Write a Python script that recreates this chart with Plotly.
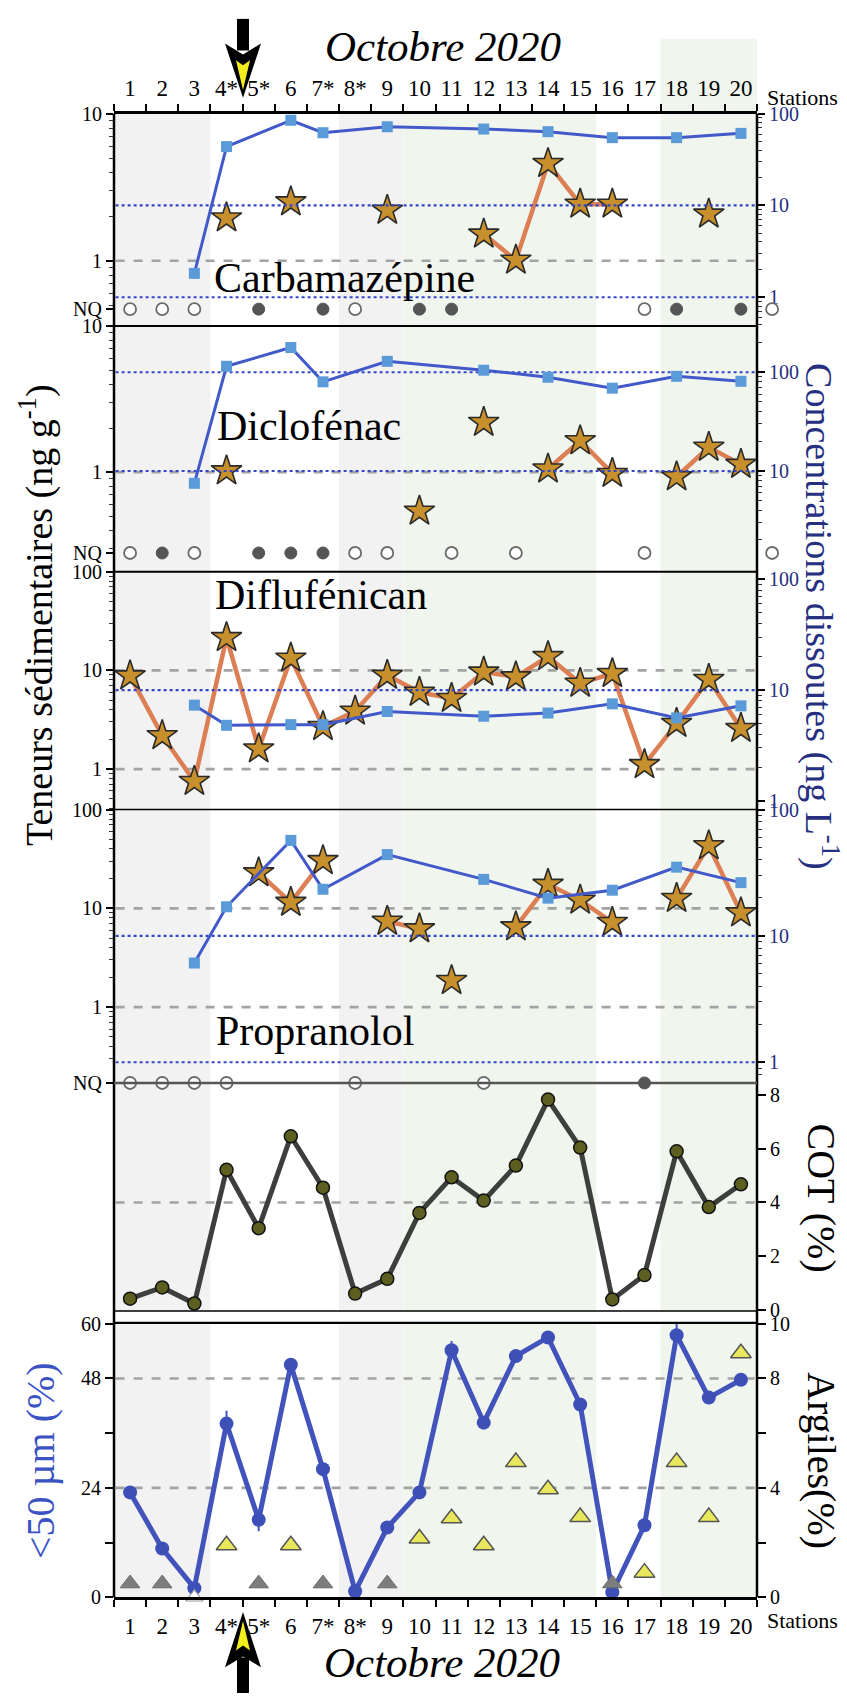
import plotly.graph_objects as go

W, H = 847, 1704
def px(x): return x / W
def py(y): return 1 - y / H

FONT = "Liberation Serif, Times New Roman, DejaVu Serif, serif"
NAVY = "#262f80"

# ---------------- data ----------------
stations = list(range(1, 21))
station_labels = ["1", "2", "3", "4*", "5*", "6", "7*", "8*", "9", "10",
                  "11", "12", "13", "14", "15", "16", "17", "18", "19", "20"]
diss_stations = [3, 4, 6, 7, 9, 12, 14, 16, 18, 20]

# Carbamazepine
carba_sed = [None, None, None, 1.96, None, 2.52, None, None, 2.21, None,
             None, 1.52, 1.01, 4.6, 2.43, 2.43, None, None, 2.08, None]
carba_diss = [1.82, 43.8, 84.7, 62, 72, 68, 63.6, 54.8, 54.8, 61]
carba_nq_open = [1, 2, 3, 8, 17]
carba_nq_filled = [5, 7, 10, 11, 18, 20]

# Diclofenac
diclo_sed = [None, None, None, 1.02, None, None, None, None, None, 0.54,
             None, 2.19, None, 1.05, 1.64, 0.98, None, 0.93, 1.48, 1.13]
diclo_diss = [7.5, 115, 178, 80, 129, 105, 89, 69, 91, 81]
diclo_nq_open = [1, 3, 8, 9, 11, 13, 17]
diclo_nq_filled = [2, 5, 6, 7]

# stray open NQ symbols drawn just right of the frame
edge_nq_x = [20.97]

# Diflufenican
diflu_sed = [8.8, 2.18, 0.75, 21.5, 1.6, 13.3, 2.7, 3.86, 8.9, 6.0,
             5.2, 9.6, 8.6, 13.8, 7.4, 9.3, 1.11, 2.9, 8.1, 2.58]
diflu_diss = [7.3, 4.8, 4.87, 4.87, 6.4, 5.8, 6.2, 7.5, 5.6, 7.2]

# Propranolol
propra_sed = [None, None, None, None, 22.9, 11.5, 30.4, None, 7.4, 6.2,
              1.86, None, 6.5, 17.5, 12.1, 7.2, None, 12.6, 43, 9.0]
propra_unlinked = [11]
propra_diss = [6.1, 17, 57, 23.4, 44, 28, 19.9, 23, 35, 26.4]
propra_nq_open = [1, 2, 3, 4, 8, 12]
propra_nq_filled = [17]

# COT (%)
cot = [0.41, 0.83, 0.23, 5.22, 3.04, 6.47, 4.55, 0.6, 1.15, 3.61,
       4.94, 4.07, 5.38, 7.84, 6.05, 0.38, 1.29, 5.91, 3.83, 4.68]

# <50 um (%)
fines = [23.0, 10.7, 2.0, 38.1, 17.0, 51.0, 28.1, 1.3, 15.3, 23.0,
         54.2, 38.3, 52.9, 57.0, 42.3, 1.1, 15.8, 57.5, 43.8, 47.7]
fines_err_plus = [0, 0, 0, 2.8, 0, 0, 0, 0, 0, 0, 2.0, 0, 0, 0, 0, 0, 0, 2.5, 0, 0]
fines_err_minus = [0, 0, 0, 0, 2.5, 0, 0, 0, 0, 0, 0, 0, 0, 0, 0, 0, 0, 0, 0, 0]

# Argiles (%)
argile_stations = [4, 6, 10, 11, 12, 13, 14, 15, 17, 18, 19, 20]
argile_values = [1.9, 1.9, 2.15, 2.89, 1.9, 4.94, 3.95, 2.93, 0.9, 4.94, 2.93, 8.92]
argile_low_stations = [1, 2, 5, 7, 9, 16]
argile_low_values = [0.5, 0.5, 0.5, 0.5, 0.5, 0.5]
argile_nd_stations = [3]
argile_nd_values = [0.0]

# ---------------- layout geometry ----------------
XL, XR = 114, 757
XR_EXT = 790
panels = {  # (top px, bottom px)
    1: (104, 319), 2: (319, 568), 3: (568, 809), 4: (809, 1086),
    5: (1086, 1317), 6: (1329, 1607)}
def dom(p):
    t, b = panels[p]
    return [py(b), py(t)]

NQ1 = 10 ** -0.329
NQ2 = 10 ** -0.554
NQ4 = 10 ** -0.768

fig = go.Figure()

def hline(val, axis, color, dash, width=2.2):
    fig.add_trace(go.Scatter(x=[0.55, 20.45], y=[val, val], yaxis=axis, mode="lines",
                             line=dict(color=color, dash=dash, width=width),
                             hoverinfo="skip", showlegend=False))

GRAY_DASH = "#a3a3a3"
BLUE_DOT = "#3347c8"
STAR_FILL = "#c8902c"
ORANGE = "#dd7f55"
SQ_COLOR = "#5b9ad8"
BLUE_LINE = "#4259c9"

def diss_trace(vals, axis):
    fig.add_trace(go.Scatter(x=diss_stations, y=vals, yaxis=axis, mode="lines+markers",
                             line=dict(color=BLUE_LINE, width=3),
                             marker=dict(symbol="square", size=11, color=SQ_COLOR),
                             showlegend=False, cliponaxis=False))

def sed_traces(vals, axis, unlinked=()):
    linevals = [None if s in unlinked else v for s, v in zip(stations, vals)]
    fig.add_trace(go.Scatter(x=stations, y=linevals, yaxis=axis, mode="lines",
                             connectgaps=False, line=dict(color=ORANGE, width=4.5),
                             showlegend=False, hoverinfo="skip"))
    fig.add_trace(go.Scatter(x=stations, y=vals, yaxis=axis, mode="markers",
                             marker=dict(symbol="star", size=23, color=STAR_FILL,
                                         line=dict(color="#2b2b2b", width=1.6)),
                             showlegend=False, cliponaxis=False))

OPEN_NQ = dict(symbol="circle", size=12, color="white", line=dict(color="#6a6a6a", width=1.8))

def nq_traces(open_st, filled_st, val, axis):
    fig.add_trace(go.Scatter(x=open_st, y=[val] * len(open_st), yaxis=axis, mode="markers",
                             marker=OPEN_NQ, showlegend=False, cliponaxis=False))
    fig.add_trace(go.Scatter(x=filled_st, y=[val] * len(filled_st), yaxis=axis, mode="markers",
                             marker=dict(symbol="circle", size=12, color="#555555",
                                         line=dict(color="#555555", width=1)),
                             showlegend=False, cliponaxis=False))

def edge_nq(val, axis):
    fig.add_trace(go.Scatter(x=edge_nq_x, y=[val] * len(edge_nq_x), xaxis="x3", yaxis=axis,
                             mode="markers", marker=OPEN_NQ, showlegend=False,
                             cliponaxis=False))

# Panel 1
hline(1, "y", GRAY_DASH, "dash", 2.6)
hline(10, "y2", BLUE_DOT, "dot")
hline(1, "y2", BLUE_DOT, "dot")
diss_trace(carba_diss, "y2")
sed_traces(carba_sed, "y")
nq_traces(carba_nq_open, carba_nq_filled, NQ1, "y")
edge_nq(NQ1, "y")

# Panel 2
hline(1, "y3", GRAY_DASH, "dash", 2.6)
hline(100, "y4", BLUE_DOT, "dot")
hline(10, "y4", BLUE_DOT, "dot")
diss_trace(diclo_diss, "y4")
sed_traces(diclo_sed, "y3")
nq_traces(diclo_nq_open, diclo_nq_filled, NQ2, "y3")
edge_nq(NQ2, "y3")

# Panel 3
hline(10, "y5", GRAY_DASH, "dash", 2.6)
hline(1, "y5", GRAY_DASH, "dash", 2.6)
hline(10, "y6", BLUE_DOT, "dot")
diss_trace(diflu_diss, "y6")
sed_traces(diflu_sed, "y5")

# Panel 4
hline(10, "y7", GRAY_DASH, "dash", 2.6)
hline(1, "y7", GRAY_DASH, "dash", 2.6)
hline(10, "y8", BLUE_DOT, "dot")
hline(1, "y8", BLUE_DOT, "dot")
diss_trace(propra_diss, "y8")
sed_traces(propra_sed, "y7", propra_unlinked)
nq_traces(propra_nq_open, propra_nq_filled, NQ4, "y7")

# Panel 5 COT
hline(4, "y9", GRAY_DASH, "dash", 2.6)
fig.add_trace(go.Scatter(x=stations, y=cot, yaxis="y9", mode="lines+markers",
                         line=dict(color="#3c3f3c", width=5),
                         marker=dict(symbol="circle", size=13, color="#5c5f1f",
                                     line=dict(color="#111111", width=1.5)),
                         showlegend=False, cliponaxis=False))

# Panel 6 grain size / clay
hline(24, "y10", GRAY_DASH, "dash", 2.6)
hline(48, "y10", GRAY_DASH, "dash", 2.6)
fig.add_trace(go.Scatter(x=argile_low_stations, y=argile_low_values, yaxis="y11", mode="markers",
                         marker=dict(symbol="triangle-up", size=17, color="#7d7d7d",
                                     line=dict(color="#6a6a6a", width=1)),
                         showlegend=False, cliponaxis=False))
fig.add_trace(go.Scatter(x=argile_nd_stations, y=argile_nd_values, yaxis="y11", mode="markers",
                         marker=dict(symbol="triangle-up", size=15, color="white",
                                     line=dict(color="#9a9a9a", width=1.2)),
                         showlegend=False, cliponaxis=False))
fig.add_trace(go.Scatter(x=stations, y=fines, yaxis="y10", mode="lines+markers",
                         line=dict(color="#4254bb", width=5),
                         marker=dict(symbol="circle", size=14, color="#3d50b8"),
                         error_y=dict(type="data", symmetric=False, array=fines_err_plus,
                                      arrayminus=fines_err_minus, width=0, thickness=2,
                                      color="#4254bb"),
                         showlegend=False, cliponaxis=False))
fig.add_trace(go.Scatter(x=argile_stations, y=argile_values, yaxis="y11", mode="markers",
                         marker=dict(symbol="triangle-up", size=18, color="#e9e85c",
                                     line=dict(color="#555555", width=1.5)),
                         showlegend=False, cliponaxis=False))

# dummy trace for top axis
fig.add_trace(go.Scatter(x=[1], y=[1], xaxis="x2", yaxis="y", mode="markers",
                         marker=dict(opacity=0), hoverinfo="skip", showlegend=False))

# ---------------- axes ----------------
tickfont = dict(family=FONT, size=20, color="black")
navyfont = dict(family=FONT, size=20, color=NAVY)
bounds = [s + 0.5 for s in range(0, 21)]

xcommon = dict(range=[0.5, 20.5], domain=[px(XL), px(XR)], showgrid=False, zeroline=False,
               tickmode="array", tickvals=stations, ticktext=station_labels,
               tickfont=dict(family=FONT, size=23, color="black"),
               ticks="outside", ticklen=6, tickcolor="rgba(0,0,0,0)",
               showline=True, linecolor="black", linewidth=2.5,
               minor=dict(tickmode="array", tickvals=bounds, ticks="outside",
                          ticklen=7, tickwidth=1.8, tickcolor="black"))
step = (XR - XL) / 20.0
fig.update_layout(xaxis=dict(anchor="y10", side="bottom", **xcommon),
                  xaxis2=dict(anchor="y", side="top", overlaying="x", **xcommon),
                  xaxis3=dict(anchor="y", domain=[px(XL), px(XR_EXT)],
                              range=[0.5, 0.5 + (XR_EXT - XL) / step], visible=False))

def minor_log(lo):
    return [m * 10 ** e for e in range(-2, 3) for m in range(2, 10) if m * 10 ** e >= lo]

def logaxis(p, rng, tickvals, ticktext, font, side="left", overlay=None, minlo=0.0):
    d = dict(type="log", range=rng, showgrid=False, zeroline=False, showline=False,
             tickmode="array", tickvals=tickvals, ticktext=ticktext, tickfont=font,
             ticks="outside", ticklen=7, tickwidth=1.8, tickcolor="black",
             anchor="x", side=side,
             minor=dict(tickmode="array", tickvals=minor_log(minlo), ticks="outside",
                        ticklen=4, tickwidth=1, tickcolor="#333333"))
    if overlay:
        d["overlaying"] = overlay
    else:
        d["domain"] = dom(p)
    return d

fig.update_layout(
    yaxis=logaxis(1, [-0.443, 1.002], [10, 1, NQ1], ["10", "1", "NQ"], tickfont, minlo=0.5),
    yaxis2=logaxis(1, [-0.312, 2.0], [100, 10, 1], ["100", "10", "1"], navyfont, "right", "y", minlo=0.5),
    yaxis3=logaxis(2, [-0.682, 1.002], [10, 1, NQ2], ["10", "1", "NQ"], tickfont, minlo=0.3),
    yaxis4=logaxis(2, [-0.02, 2.47], [100, 10], ["100", "10"], navyfont, "right", "y3", minlo=1),
    yaxis5=logaxis(3, [-0.41, 2.0], [100, 10, 1], ["100", "10", "1"], tickfont, minlo=0.4),
    yaxis6=logaxis(3, [-0.08, 2.07], [100, 10, 1], ["100", "10", "1"], navyfont, "right", "y5", minlo=1),
    yaxis7=logaxis(4, [-0.768, 2.0], [100, 10, 1, NQ4], ["100", "10", "1", "NQ"], tickfont, minlo=0.3),
    yaxis8=logaxis(4, [-0.164, 2.0], [100, 10, 1], ["100", "10", "1"], navyfont, "right", "y7", minlo=0.8),
    yaxis9=dict(domain=dom(5), range=[-0.05, 8.46], side="right", anchor="x",
                showgrid=False, zeroline=False, showline=False,
                tickmode="array", tickvals=[0, 2, 4, 6, 8], tickfont=tickfont,
                ticks="outside", ticklen=8, tickwidth=1.8, tickcolor="black"),
    yaxis10=dict(domain=dom(6), range=[0, 60.2], side="left", anchor="x",
                 showgrid=False, zeroline=False, showline=False,
                 tickmode="array", tickvals=[0, 12, 24, 36, 48, 60],
                 ticktext=["0", " ", "24", " ", "48", "60"], tickfont=tickfont,
                 ticks="outside", ticklen=8, tickwidth=1.8, tickcolor="black"),
    yaxis11=dict(overlaying="y10", range=[0, 10.03], side="right", anchor="x",
                 showgrid=False, zeroline=False, showline=False,
                 tickmode="array", tickvals=[0, 2, 4, 6, 8, 10],
                 ticktext=["0", " ", "4", " ", "8", "10"], tickfont=tickfont,
                 ticks="outside", ticklen=8, tickwidth=1.8, tickcolor="black"),
)

# ---------------- shapes ----------------
shapes = []
GRAY_BAND = "#f2f2f2"
GREEN_BAND = "#f0f6ed"
bands = [(0.5, 3.5, GRAY_BAND, 104), (7.5, 9.5, GRAY_BAND, 104),
         (9.5, 15.5, GREEN_BAND, 104), (17.5, 20.5, GREEN_BAND, 28)]
for x0, x1, c, top in bands:
    shapes.append(dict(type="rect", xref="x", yref="paper", x0=x0, x1=x1,
                       y0=py(1317), y1=py(top), fillcolor=c, line=dict(width=0), layer="below"))
    shapes.append(dict(type="rect", xref="x", yref="paper", x0=x0, x1=x1,
                       y0=py(1607), y1=py(1329), fillcolor=c, line=dict(width=0), layer="below"))

for xx in (XL, XR):
    shapes.append(dict(type="line", xref="paper", yref="paper", x0=px(xx), x1=px(xx),
                       y0=py(104), y1=py(1607), line=dict(color="black", width=2.5)))
for yy, col, wd in [(319, "black", 2), (568, "black", 2), (809, "black", 1.6),
                    (1086, "#555555", 2.5), (1317, "black", 1.6), (1329, "black", 2.2)]:
    shapes.append(dict(type="line", xref="paper", yref="paper", x0=px(XL), x1=px(XR),
                       y0=py(yy), y1=py(yy), line=dict(color=col, width=wd)))

def poly(points):
    return "M " + " L ".join(f"{px(a):.5f},{py(b):.5f}" for a, b in points) + " Z"

# top arrow
shapes.append(dict(type="path", xref="paper", yref="paper",
                   path=poly([(237, 8), (249, 8), (249, 40), (237, 40)]),
                   fillcolor="black", line=dict(width=0)))
shapes.append(dict(type="path", xref="paper", yref="paper",
                   path=poly([(225, 33), (243, 44), (261, 33), (243, 88)]),
                   fillcolor="black", line=dict(width=0)))
shapes.append(dict(type="path", xref="paper", yref="paper",
                   path=poly([(236, 50), (243, 55), (250, 50), (243, 80)]),
                   fillcolor="#f2ee1c", line=dict(width=0)))
# bottom arrow
shapes.append(dict(type="path", xref="paper", yref="paper",
                   path=poly([(237, 1668), (249, 1668), (249, 1704), (237, 1704)]),
                   fillcolor="black", line=dict(width=0)))
shapes.append(dict(type="path", xref="paper", yref="paper",
                   path=poly([(225, 1678), (243, 1667), (261, 1678), (243, 1622)]),
                   fillcolor="black", line=dict(width=0)))
shapes.append(dict(type="path", xref="paper", yref="paper",
                   path=poly([(236, 1661), (243, 1656), (250, 1661), (243, 1631)]),
                   fillcolor="#f2ee1c", line=dict(width=0)))

# ---------------- annotations ----------------
ann = []
def text(x, y, t, size, color="black", angle=0, xanchor="center", italic=False):
    ann.append(dict(xref="paper", yref="paper", x=px(x), y=py(y), text=t, showarrow=False,
                    textangle=angle, xanchor=xanchor, yanchor="middle",
                    font=dict(family=FONT, size=size, color=color,
                              style="italic" if italic else "normal")))

text(443, 36, "Octobre 2020", 43, italic=True)
text(442, 1673, "Octobre 2020", 43, italic=True)
text(765, 88, "Stations", 22, xanchor="left")
text(765, 1631, "Stations", 22, xanchor="left")
text(212, 270, "Carbamazépine", 42, xanchor="left")
text(215, 420, "Diclofénac", 42, xanchor="left")
text(213, 592, "Diflufénican", 42, xanchor="left")
text(214, 1033, "Propranolol", 42, xanchor="left")
text(36, 612, "Teneurs sédimentaires (ng g<sup>-1</sup>)", 38, angle=-90)
text(822, 613, "Concentrations dissoutes (ng L<sup>-1</sup>)", 38, color=NAVY, angle=90)
text(822, 1202, "COT (%)", 40, angle=90)
text(822, 1468, "Argiles(%)", 40, angle=90)
text(40, 1469, "<50 µm (%)", 40, color="#3b52c2", angle=-90)

fig.update_layout(width=W, height=H, autosize=False,
                  margin=dict(l=0, r=0, t=0, b=0, pad=0),
                  paper_bgcolor="white", plot_bgcolor="rgba(0,0,0,0)",
                  showlegend=False, shapes=shapes, annotations=ann)

fig.write_html("out.html")
